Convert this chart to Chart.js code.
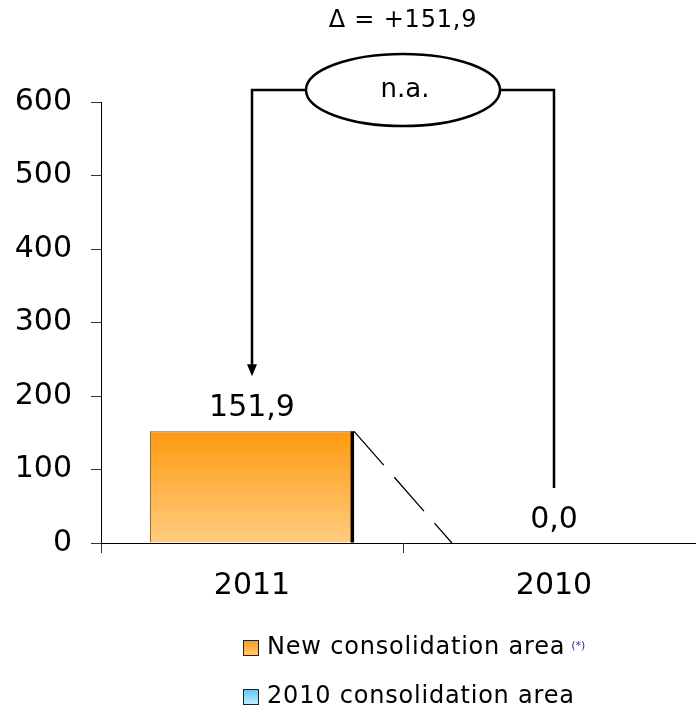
<!DOCTYPE html>
<html>
<head>
<meta charset="utf-8">
<script src="https://cdn.jsdelivr.net/npm/chart.js@4/dist/chart.umd.min.js"></script>
<style>
  html, body { margin: 0; padding: 0; background: #fff; overflow: hidden; }
  #wrap { width: 696px; height: 709px; overflow: hidden; }
</style>
</head>
<body>
<div id="wrap"><canvas id="chart" width="705" height="709"></canvas></div>
<script>
// data
var years = ['2011', '2010'];
var newArea = [151.9, 0];   // new consolidation area
var oldArea = [0, 0];       // 2010 consolidation area
var seriesNames = ['New consolidation area', '2010 consolidation area'];
var yMax = 600;
var yStep = 100;

var FONT = '"DejaVu Sans", Verdana, sans-serif';

function fmt(v) {
  return v.toFixed(1).replace('.', ',');
}

function barGradient(ctx, top, bottom, c1, c2) {
  var g = ctx.createLinearGradient(0, top, 0, bottom);
  g.addColorStop(0, c1);
  g.addColorStop(1, c2);
  return g;
}

// draws the bracket, labels, dashed link and legend
var extras = {
  id: 'extras',
  afterDatasetsDraw: function (chart) {
    var ctx = chart.ctx;
    var y = chart.scales.y;
    var bars = chart.getDatasetMeta(0).data;
    var b0 = bars[0], b1 = bars[1];
    var w = b0.width;
    var totals = years.map(function (_, i) { return newArea[i] + oldArea[i]; });

    ctx.save();

    // dark right edge of the 2011 bar
    ctx.fillStyle = '#000';
    ctx.fillRect(b0.x + w / 2 - 3.5, b0.y, 3.5, b0.base - b0.y);

    // dashed link between the bar tops
    ctx.strokeStyle = '#000';
    ctx.lineWidth = 1.3;
    ctx.setLineDash([45, 16]);
    ctx.beginPath();
    ctx.moveTo(b0.x + w / 2, b0.y);
    ctx.lineTo(b1.x - w / 2, y.getPixelForValue(totals[1]));
    ctx.stroke();
    ctx.setLineDash([]);

    // value labels
    ctx.fillStyle = '#000';
    ctx.font = '30px ' + FONT;
    ctx.textAlign = 'center';
    ctx.textBaseline = 'alphabetic';
    bars.forEach(function (b, i) {
      var top = y.getPixelForValue(totals[i]);
      ctx.fillText(fmt(totals[i]), b.x, top - 15);
    });

    // bracket with ellipse
    var yTop = y.getPixelForValue(yMax) - 12;
    var cx = (b0.x + b1.x) / 2;
    var rx = 97, ry = 36;
    var leftEnd = y.getPixelForValue(totals[0]) - 55;
    var rightEnd = y.getPixelForValue(totals[1]) - 55;

    ctx.lineWidth = 2.5;
    ctx.beginPath();
    ctx.moveTo(b0.x, leftEnd - 10);
    ctx.lineTo(b0.x, yTop);
    ctx.lineTo(cx - rx, yTop);
    ctx.moveTo(cx + rx, yTop);
    ctx.lineTo(b1.x, yTop);
    ctx.lineTo(b1.x, rightEnd);
    ctx.stroke();

    // arrow head
    ctx.beginPath();
    ctx.moveTo(b0.x, leftEnd);
    ctx.lineTo(b0.x - 5, leftEnd - 12);
    ctx.lineTo(b0.x + 5, leftEnd - 12);
    ctx.closePath();
    ctx.fill();

    ctx.beginPath();
    ctx.ellipse(cx, yTop, rx, ry, 0, 0, Math.PI * 2);
    ctx.fillStyle = '#fff';
    ctx.fill();
    ctx.stroke();

    ctx.fillStyle = '#000';
    ctx.font = '26px ' + FONT;
    ctx.textBaseline = 'middle';
    ctx.fillText('n.a.', cx + 2, yTop);

    var delta = totals[0] - totals[1];
    ctx.font = '24px ' + FONT;
    ctx.letterSpacing = '0.8px';
    ctx.fillText('\u0394 = ' + (delta >= 0 ? '+' : '') + fmt(delta), cx, 21);

    // legend
    var colors = [['#FF9A10', '#FFCC80'], ['#58C4F2', '#C8F0FF']];
    var rows = [648, 697];
    seriesNames.forEach(function (name, i) {
      var sx = 243, sy = rows[i] - 8, s = 16;
      ctx.fillStyle = barGradient(ctx, sy, sy + s, colors[i][0], colors[i][1]);
      ctx.fillRect(sx, sy, s, s);
      ctx.lineWidth = 1;
      ctx.strokeStyle = '#222';
      ctx.strokeRect(sx + 0.5, sy + 0.5, s - 1, s - 1);
      ctx.fillStyle = '#000';
      ctx.font = '24px ' + FONT;
      ctx.letterSpacing = '0.8px';
      ctx.textAlign = 'left';
      ctx.textBaseline = 'middle';
      ctx.fillText(name, 267, rows[i]);
      if (i === 0) {
        var tw = ctx.measureText(name).width;
        ctx.fillStyle = '#2a2aa8';
        ctx.font = '11px ' + FONT;
        ctx.letterSpacing = '0px';
        ctx.fillText('(*)', 267 + tw + 6, rows[i] - 2);
      }
    });

    ctx.restore();
  }
};

var ctx = document.getElementById('chart').getContext('2d');
var chart = new Chart(ctx, {
  type: 'bar',
  data: {
    labels: years,
    datasets: [{
      label: seriesNames[0],
      data: newArea,
      backgroundColor: function (c) {
        var ch = c.chart;
        if (!ch.chartArea) return '#FFB050';
        var yS = ch.scales.y;
        var v = c.raw || 0;
        return barGradient(ch.ctx, yS.getPixelForValue(v), yS.getPixelForValue(0), '#FF9A10', '#FFCC80');
      },
      borderColor: '#8a5a10',
      borderWidth: { top: 1, left: 1, right: 0, bottom: 0 },
      categoryPercentage: 1,
      barPercentage: 0.676
    }, {
      label: seriesNames[1],
      data: oldArea,
      backgroundColor: '#7fd0f4',
      borderWidth: 0,
      categoryPercentage: 1,
      barPercentage: 0.676
    }]
  },
  options: {
    responsive: false,
    animation: false,
    devicePixelRatio: 1,
    layout: { padding: { top: 102, left: 0, right: 0, bottom: 0 } },
    plugins: {
      legend: { display: false },
      tooltip: { enabled: false }
    },
    scales: {
      x: {
        stacked: true,
        grid: { offset: true, drawOnChartArea: false, tickLength: 10, color: '#333' },
        border: { color: '#000', width: 1 },
        ticks: { font: { family: FONT, size: 30 }, color: '#000', padding: 15 },
        afterFit: function (s) { s.height = 166; }
      },
      y: {
        stacked: true,
        min: 0,
        max: yMax,
        grid: { drawOnChartArea: false, tickLength: 10, color: '#333' },
        border: { color: '#000', width: 1 },
        ticks: { stepSize: yStep, font: { family: FONT, size: 30 }, color: '#000', padding: 19 },
        afterFit: function (s) { s.width = 101; }
      }
    }
  },
  plugins: [extras]
});
</script>
</body>
</html>
